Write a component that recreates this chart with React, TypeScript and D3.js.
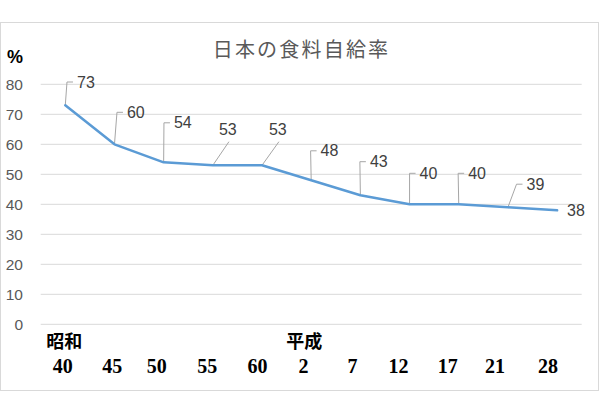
import React from "react";
import * as d3 from "d3";

const categories = ["40", "45", "50", "55", "60", "2", "7", "12", "17", "21", "28"];
const values = [73, 60, 54, 53, 53, 48, 43, 40, 40, 39, 38];
const yTicks = [0, 10, 20, 30, 40, 50, 60, 70, 80];
const eras = [
  { name: "昭和", index: 0 },
  { name: "平成", index: 5 },
];
const title = "日本の食料自給率";
const yUnit = "%";

// layout tweaks (pixels) for labels
const tickDx = [-2.5, -2.3, -7, -5.5, -4.5, -7.7, -8, -11, -11, -13, -9];
const eraDx = [-1, -7];
const labelOffsets: [number, number, string][] = [
  [12.7, -23.3, "elbow"],
  [13.5, -32, "elbow"],
  [11.3, -39.5, "elbow"],
  [7.1, -36.3, "below"],
  [7.9, -36.3, "below"],
  [10.4, -29.5, "elbow"],
  [10.5, -33.6, "elbow"],
  [11, -31, "elbow"],
  [10.4, -31, "elbow"],
  [19.6, -23.1, "elbow"],
  [11, 0.5, "none"],
];

export default function App() {
  const W = 600, H = 400;
  const x = d3.scaleBand<string>().domain(categories).range([40.7, 581.7]).padding(0);
  const y = d3.scaleLinear().domain([0, 80]).range([324.3, 84.3]);
  const cx = (i: number) => (x(categories[i]) as number) + x.bandwidth() / 2;
  const line = d3
    .line<number>()
    .x((_, i) => cx(i))
    .y((d) => y(d));

  return (
    <svg
      width={W}
      height={H}
      style={{ position: "absolute", left: 0, top: 0, background: "#fff" }}
      fontFamily="'Liberation Sans', Arial, sans-serif"
    >
      <rect x={0.5} y={22.5} width={598} height={368} fill="#fff" stroke="#d9d9d9" strokeWidth={1} />
      <text
        x={301.5}
        y={48}
        textAnchor="middle"
        dominantBaseline="central"
        fontSize={20}
        letterSpacing={2.2}
        fill="#595959"
        fontFamily="'Noto Sans CJK JP', sans-serif"
      >
        {title}
      </text>
      <text x={15} y={57} textAnchor="middle" dominantBaseline="central" fontSize={18} fontWeight="bold" fill="#000">
        {yUnit}
      </text>
      {yTicks.map((t) => (
        <g key={t}>
          <line x1={40.7} x2={581.7} y1={y(t)} y2={y(t)} stroke="#d9d9d9" strokeWidth={1} />
          <text x={23} y={y(t)} textAnchor="end" dominantBaseline="central" fontSize={15.5} fill="#595959">
            {t}
          </text>
        </g>
      ))}
      {eras.map((e, k) => (
        <text
          key={e.name}
          x={cx(e.index) + eraDx[k]}
          y={340}
          textAnchor="middle"
          dominantBaseline="central"
          fontSize={18}
          fontWeight="bold"
          fill="#000"
          fontFamily="'Noto Sans CJK JP', sans-serif"
        >
          {e.name}
        </text>
      ))}
      {categories.map((c, i) => (
        <text
          key={c}
          x={cx(i) + tickDx[i]}
          y={373}
          textAnchor="middle"
          fontSize={20}
          fontWeight="bold"
          fill="#000"
          fontFamily="'Liberation Serif', 'DejaVu Serif', serif"
        >
          {c}
        </text>
      ))}
      {values.map((v, i) => {
        const px = cx(i);
        const py = y(v);
        const [dx, dy, type] = labelOffsets[i];
        const tl = px + dx;
        const cy = py + dy;
        let leader = null;
        if (type === "elbow") {
          leader = (
            <polyline
              points={`${px},${py} ${tl - 11},${cy} ${tl - 5},${cy}`}
              fill="none"
              stroke="#a6a6a6"
              strokeWidth={1}
            />
          );
        } else if (type === "below") {
          leader = (
            <line x1={px} y1={py} x2={tl + 9} y2={cy + 12.7} stroke="#a6a6a6" strokeWidth={1} />
          );
        }
        return (
          <g key={i}>
            {leader}
          </g>
        );
      })}
      <path d={line(values) || ""} fill="none" stroke="#5B9BD5" strokeWidth={2.5} strokeLinejoin="round" strokeLinecap="round" />
      {values.map((v, i) => {
        const [dx, dy] = labelOffsets[i];
        return (
          <text
            key={i}
            x={cx(i) + dx - 1}
            y={y(v) + dy}
            dominantBaseline="central"
            fontSize={16}
            fill="#404040"
          >
            {v}
          </text>
        );
      })}
    </svg>
  );
}
